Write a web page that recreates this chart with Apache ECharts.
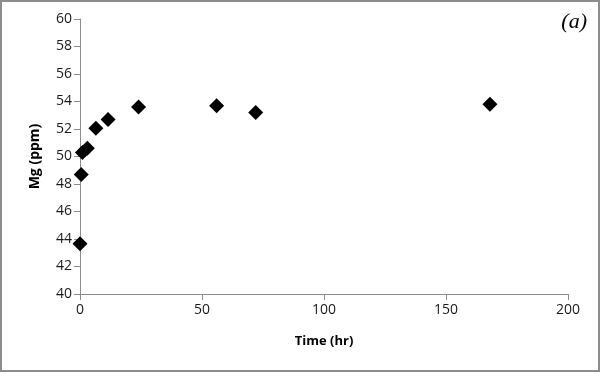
<!DOCTYPE html>
<html>
<head>
<meta charset="utf-8">
<script src="https://cdn.jsdelivr.net/npm/echarts@6/dist/echarts.min.js"></script>
<style>
html,body{margin:0;padding:0;background:#fff;}
#c{width:600px;height:372px;box-sizing:border-box;border:2px solid #8c8c8c;}
</style>
</head>
<body>
<div id="c"></div>
<script>
const timeHr = [0, 0.5, 1, 3, 6.5, 11.5, 24, 56, 72, 168];
const mgPpm = [43.65, 48.7, 50.3, 50.6, 52.05, 52.7, 53.6, 53.7, 53.2, 53.8];
const xTicks = {min: 0, max: 200, interval: 50};
const yTicks = {min: 40, max: 60, interval: 2};

const chart = echarts.init(document.getElementById('c'), null, {renderer: 'canvas'});
const font = '"Open Sans", Lato, sans-serif';
chart.setOption({
  animation: false,
  grid: {left: 78, right: 30, top: 17, bottom: 76},
  title: {
    text: '(a)', right: 6, top: 4,
    textStyle: {fontFamily: '"Liberation Serif", "DejaVu Serif", serif', fontStyle: 'italic', fontWeight: 'normal', fontSize: 22, color: '#000'}
  },
  xAxis: {
    type: 'value', min: xTicks.min, max: xTicks.max, interval: xTicks.interval,
    name: 'Time (hr)', nameLocation: 'middle', nameGap: 41,
    nameTextStyle: {fontFamily: font, fontWeight: 'bold', fontSize: 13, color: '#000'},
    axisLine: {show: true, lineStyle: {color: '#8c8c8c', width: 1}},
    axisTick: {show: true, length: 6, inside: false, lineStyle: {color: '#8c8c8c'}},
    axisLabel: {fontFamily: font, fontSize: 14, color: '#1a1a1a', margin: 9},
    splitLine: {show: false}
  },
  yAxis: {
    type: 'value', min: yTicks.min, max: yTicks.max, interval: yTicks.interval,
    name: 'Mg (ppm)', nameLocation: 'middle', nameGap: 38, nameRotate: 90,
    nameTextStyle: {fontFamily: font, fontWeight: 'bold', fontSize: 14, color: '#000'},
    axisLine: {show: true, lineStyle: {color: '#8c8c8c', width: 1}},
    axisTick: {show: true, length: 6, inside: false, lineStyle: {color: '#8c8c8c'}},
    axisLabel: {fontFamily: font, fontSize: 14, color: '#1a1a1a', margin: 8},
    splitLine: {show: false}
  },
  series: [{
    type: 'scatter',
    symbol: 'diamond',
    symbolSize: 15,
    itemStyle: {color: '#000', opacity: 1},
    data: timeHr.map((t, i) => [t, mgPpm[i]])
  }]
});
</script>
</body>
</html>
